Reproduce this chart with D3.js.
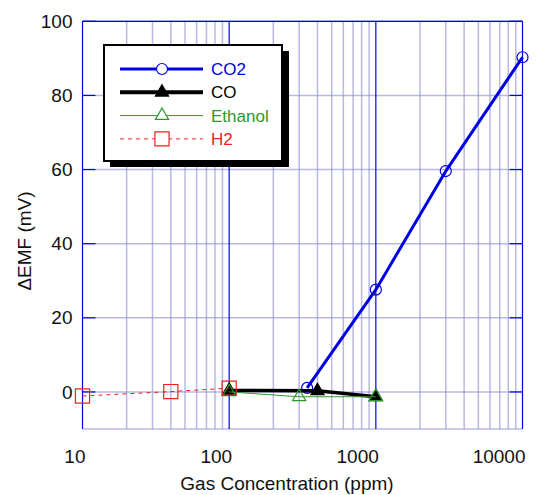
<!DOCTYPE html>
<html>
<head>
<meta charset="utf-8">
<script src="https://cdn.jsdelivr.net/npm/d3@7"></script>
<style>
  body { margin: 0; background: #fff; }
  svg text { font-family: Arial, "Liberation Sans", sans-serif; }
</style>
</head>
<body>
<svg id="chart" width="554" height="495"></svg>
<script>
// data (ppm, mV)
var co2Ppm = [340, 1000, 3000, 10000];
var co2Emf = [1.1, 27.6, 59.6, 90.3];
var coPpm = [100, 400, 1000];
var coEmf = [0.4, 0.3, -1.3];
var ethanolPpm = [100, 300, 1000];
var ethanolEmf = [0.0, -1.3, -1.3];
var h2Ppm = [10, 40, 100];
var h2Emf = [-1.1, 0.1, 1.0];

var xTicks = [10, 100, 1000, 10000];
var yTicks = [0, 20, 40, 60, 80, 100];
var legendNames = ['CO2', 'CO', 'Ethanol', 'H2'];

var svg = d3.select('#chart'),
  margin = {top: 21.3, right: 31.5, bottom: 66, left: 82.5},
  width = +svg.attr('width') - margin.left - margin.right,
  height = +svg.attr('height') - margin.top - margin.bottom;

var g = svg.append('g')
  .attr('transform', 'translate(' + margin.left + ',' + margin.top + ')');

var x = d3.scaleLog().domain([10, 10000]).range([0, width]);
var y = d3.scaleLinear().domain([-10, 100]).range([height, 0]);

var minorColor = '#8a8ad0';
var majorColor = '#0000f0';

// minor vertical grid (2..9 of every decade)
var minor = [];
[10, 100, 1000].forEach(function(d) {
  d3.range(2, 10).forEach(function(k) { minor.push(d * k); });
});

g.append('g').selectAll('line')
  .data(minor)
  .enter().append('line')
  .attr('x1', function(d) { return x(d); })
  .attr('x2', function(d) { return x(d); })
  .attr('y1', 0).attr('y2', height)
  .attr('stroke', minorColor).attr('stroke-opacity', 0.6)
  .attr('stroke-width', 1.5);

// horizontal grid
g.append('g').selectAll('line')
  .data(yTicks.concat([-10]))
  .enter().append('line')
  .attr('x1', 0).attr('x2', width)
  .attr('y1', function(d) { return y(d); })
  .attr('y2', function(d) { return y(d); })
  .attr('stroke', minorColor).attr('stroke-opacity', 0.6)
  .attr('stroke-width', 1.5);

// decade lines
g.append('g').selectAll('line')
  .data(xTicks)
  .enter().append('line')
  .attr('x1', function(d) { return x(d); })
  .attr('x2', function(d) { return x(d); })
  .attr('y1', 0).attr('y2', height)
  .attr('stroke', majorColor).attr('stroke-width', 1.2);

// top frame
g.append('line')
  .attr('x1', 0).attr('x2', width).attr('y1', 0).attr('y2', 0)
  .attr('stroke', majorColor).attr('stroke-width', 1.2);

// y ticks, inside on both sides
var yt = g.append('g');
yt.selectAll('line.l')
  .data(yTicks)
  .enter().append('line')
  .attr('class', 'l')
  .attr('x1', 0).attr('x2', 13)
  .attr('y1', function(d) { return y(d); })
  .attr('y2', function(d) { return y(d); })
  .attr('stroke', majorColor).attr('stroke-width', 1.2);
yt.selectAll('line.r')
  .data(yTicks)
  .enter().append('line')
  .attr('class', 'r')
  .attr('x1', width - 13).attr('x2', width)
  .attr('y1', function(d) { return y(d); })
  .attr('y2', function(d) { return y(d); })
  .attr('stroke', majorColor).attr('stroke-width', 1.2);

// tick labels
g.append('g').selectAll('text')
  .data(yTicks)
  .enter().append('text')
  .attr('x', -10)
  .attr('y', function(d) { return y(d); })
  .attr('dy', '0.35em')
  .attr('text-anchor', 'end')
  .attr('font-size', 19)
  .attr('fill', '#111')
  .text(function(d) { return d; });

g.append('g').selectAll('text')
  .data(xTicks)
  .enter().append('text')
  .attr('x', function(d) { return x(d) + 3; })
  .attr('y', height + 34)
  .attr('text-anchor', 'end')
  .attr('font-size', 19)
  .attr('fill', '#111')
  .text(function(d) { return d; });

// axis titles
svg.append('text')
  .attr('x', 287).attr('y', 490)
  .attr('text-anchor', 'middle')
  .attr('font-size', 19)
  .attr('fill', '#111')
  .text('Gas Concentration (ppm)');

svg.append('text')
  .attr('transform', 'translate(31,241) rotate(-90)')
  .attr('text-anchor', 'middle')
  .attr('font-size', 19)
  .attr('fill', '#111')
  .text('\u0394EMF (mV)');

// series
var series = [
  {name: 'CO2', xs: co2Ppm, ys: co2Emf, color: '#0000e6', width: 3, dash: null,
   symbol: d3.symbolCircle, size: 95, fill: 'none', mstroke: '#0000e6'},
  {name: 'CO', xs: coPpm, ys: coEmf, color: '#000', width: 3.5, dash: null,
   symbol: d3.symbolTriangle, size: 75, fill: '#000', mstroke: '#000'},
  {name: 'Ethanol', xs: ethanolPpm, ys: ethanolEmf, color: '#2a9a2a', width: 1, dash: null,
   symbol: d3.symbolTriangle, size: 75, fill: 'none', mstroke: '#2a9a2a'},
  {name: 'H2', xs: h2Ppm, ys: h2Emf, color: '#ee2020', width: 1, dash: '4,4',
   symbol: d3.symbolSquare, size: 200, fill: 'none', mstroke: '#ee2020'}
];

var line = d3.line()
  .x(function(d) { return x(d[0]); })
  .y(function(d) { return y(d[1]); });

series.forEach(function(s) {
  var pts = d3.zip(s.xs, s.ys);
  g.append('path')
    .datum(pts)
    .attr('d', line)
    .attr('fill', 'none')
    .attr('stroke', s.color)
    .attr('stroke-width', s.width)
    .attr('stroke-dasharray', s.dash);
  g.append('g').selectAll('path')
    .data(pts)
    .enter().append('path')
    .attr('d', d3.symbol().type(s.symbol).size(s.size))
    .attr('transform', function(d) { return 'translate(' + x(d[0]) + ',' + y(d[1]) + ')'; })
    .attr('fill', s.fill)
    .attr('stroke', s.mstroke)
    .attr('stroke-width', 1.2);
});

// legend
var lg = svg.append('g').attr('transform', 'translate(104,45)');
lg.append('path')
  .attr('d', 'M6,6 L185,6 L185,122 L6,122 Z')
  .attr('fill', '#000');
lg.append('rect')
  .attr('x', 0).attr('y', 0).attr('width', 178).attr('height', 116)
  .attr('fill', '#fff').attr('stroke', '#000').attr('stroke-width', 2);

var rows = lg.selectAll('g.row')
  .data(series)
  .enter().append('g')
  .attr('class', 'row')
  .attr('transform', function(d, i) { return 'translate(0,' + (24 + i * 23.3) + ')'; });

rows.append('line')
  .attr('x1', 16).attr('x2', 99)
  .attr('stroke', function(d) { return d.color; })
  .attr('stroke-width', function(d) { return d.width === 3.5 ? 4 : d.width; })
  .attr('stroke-dasharray', function(d) { return d.dash; });
rows.append('path')
  .attr('d', function(d) { return d3.symbol().type(d.symbol).size(d.size)(); })
  .attr('transform', 'translate(58,0)')
  .attr('fill', function(d) { return d.fill === 'none' ? '#fff' : d.fill; })
  .attr('stroke', function(d) { return d.mstroke; })
  .attr('stroke-width', 1.2);
rows.append('text')
  .attr('x', 107)
  .attr('dy', '0.35em')
  .attr('font-size', 17)
  .attr('fill', function(d) { return d.color; })
  .text(function(d, i) { return legendNames[i]; });
</script>
</body>
</html>
